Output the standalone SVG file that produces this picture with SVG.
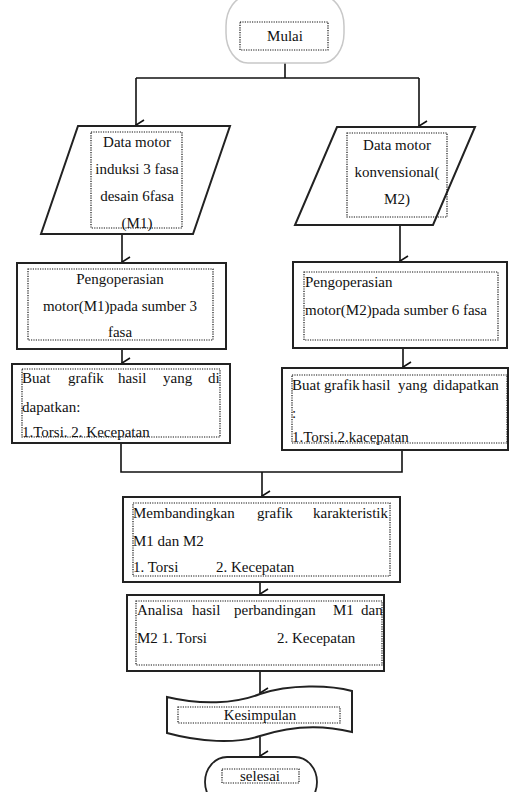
<svg xmlns="http://www.w3.org/2000/svg" width="510" height="792" viewBox="0 0 510 792">
<defs>
<marker id="ah" markerWidth="12" markerHeight="10" refX="6" refY="9" orient="auto-start-reverse" markerUnits="userSpaceOnUse" viewBox="0 0 12 10">
<path d="M1,1 L6,9 L11,1" fill="none" stroke="#111" stroke-width="1.6"/>
</marker>
</defs>
<style>
.box{fill:#fff;stroke:#222;stroke-width:2}
.dot{fill:none;stroke:#111;stroke-width:1.2;stroke-dasharray:1.2 1.2}
.ln{fill:none;stroke:#111;stroke-width:1.6}
text{font-family:"Liberation Serif","DejaVu Serif",serif;font-size:15px;fill:#111}
.c{text-anchor:middle}
</style>
<rect width="510" height="792" fill="#fff"/>
<g id="connectors">
<path class="ln" d="M285,63 V78"/>
<path class="ln" d="M136,78 H419"/>
<path class="ln" d="M136,78 V125" marker-end="url(#ah)"/>
<path class="ln" d="M419,78 V126" marker-end="url(#ah)"/>
<path class="ln" d="M122,234 V262" marker-end="url(#ah)"/>
<path class="ln" d="M400,225 V261" marker-end="url(#ah)"/>
<path class="ln" d="M122,349 V363" marker-end="url(#ah)"/>
<path class="ln" d="M403,348 V367" marker-end="url(#ah)"/>
<path class="ln" d="M121,443 V472 H402 V450"/>
<path class="ln" d="M262,472 V496" marker-end="url(#ah)"/>
<path class="ln" d="M260,582 V594" marker-end="url(#ah)"/>
<path class="ln" d="M260,671 V693" marker-end="url(#ah)"/>
<path class="ln" d="M260,737 V756" marker-end="url(#ah)"/>
</g>
<g id="mulai">
<rect x="226" y="-4" width="118" height="67" rx="22" ry="30" fill="#fff" stroke="#c8c8c8" stroke-width="1.5"/>
<rect class="dot" x="240" y="22" width="88" height="28"/>
<text class="c" x="285" y="41" font-family="Liberation Serif, serif" font-size="16">Mulai</text>
</g>
<g id="data-m1">
<path class="box" d="M78,126 H230 L193,234 H41 Z"/>
<rect class="dot" x="91" y="132" width="91" height="96"/>
<text class="c" x="137" y="147" font-family="Liberation Serif, serif">Data  motor</text>
<text class="c" x="137" y="174" font-family="Liberation Serif, serif">induksi 3 fasa</text>
<text class="c" x="137" y="201" font-family="Liberation Serif, serif">desain  6fasa</text>
<text class="c" x="137" y="228" font-family="Liberation Serif, serif">(M1)</text>
</g>
<g id="data-m2">
<path class="box" d="M337,127 H475 L433,225 H295 Z"/>
<rect class="dot" x="347" y="133" width="100" height="84"/>
<text class="c" x="397" y="150" font-family="Liberation Serif, serif">Data  motor</text>
<text class="c" x="397" y="177" font-family="Liberation Serif, serif">konvensional(</text>
<text class="c" x="397" y="204" font-family="Liberation Serif, serif">M2)</text>
</g>
<g id="op-m1">
<rect class="box" x="17" y="263" width="209" height="86"/>
<rect class="dot" x="28" y="269" width="185" height="71"/>
<text class="c" x="120" y="284" font-family="Liberation Serif, serif">Pengoperasian</text>
<text class="c" x="120" y="311" font-family="Liberation Serif, serif">motor(M1)pada  sumber 3</text>
<text class="c" x="120" y="337" font-family="Liberation Serif, serif">fasa</text>
</g>
<g id="op-m2">
<rect class="box" x="293" y="262" width="214" height="86"/>
<rect class="dot" x="304" y="272" width="194" height="68"/>
<text x="305" y="287" font-family="Liberation Serif, serif">Pengoperasian</text>
<text x="305" y="315" font-family="Liberation Serif, serif">motor(M2)pada  sumber 6 fasa</text>
</g>
<g id="grafik-m1">
<rect class="box" x="12" y="364" width="218" height="79"/>
<rect class="dot" x="22" y="369" width="198" height="68"/>
<text y="383" font-family="Liberation Serif, serif"><tspan x="22">Buat</tspan><tspan x="68">grafik</tspan><tspan x="118">hasil</tspan><tspan x="163">yang</tspan><tspan x="208">di</tspan></text>
<text x="22" y="412" font-family="Liberation Serif, serif">dapatkan:</text>
<text x="22" y="437" font-family="Liberation Serif, serif">1.Torsi. 2. Kecepatan</text>
</g>
<g id="grafik-m2">
<rect class="box" x="282" y="368" width="226" height="82"/>
<rect class="dot" x="292" y="375" width="215" height="68"/>
<text y="390" font-family="Liberation Serif, serif"><tspan x="292">Buat</tspan><tspan x="324">grafik</tspan><tspan x="362">hasil</tspan><tspan x="398">yang</tspan><tspan x="433">didapatkan</tspan></text>
<text x="292" y="418" font-family="Liberation Serif, serif">:</text>
<text x="292" y="442" font-family="Liberation Serif, serif">1.Torsi.2.kacepatan</text>
</g>
<g id="bandingkan">
<rect class="box" x="123" y="497" width="277" height="85"/>
<rect class="dot" x="133" y="503" width="257" height="73"/>
<text y="518" font-family="Liberation Serif, serif"><tspan x="133">Membandingkan</tspan><tspan x="257">grafik</tspan><tspan x="313">karakteristik</tspan></text>
<text x="133" y="546" font-family="Liberation Serif, serif">M1 dan M2</text>
<text y="572" font-family="Liberation Serif, serif"><tspan x="133">1. Torsi</tspan><tspan x="216">2. Kecepatan</tspan></text>
</g>
<g id="analisa">
<rect class="box" x="127" y="595" width="257" height="76"/>
<rect class="dot" x="136" y="601" width="246" height="64"/>
<text y="615" font-family="Liberation Serif, serif"><tspan x="137">Analisa</tspan><tspan x="192">hasil</tspan><tspan x="234">perbandingan</tspan><tspan x="333">M1</tspan><tspan x="361">dan</tspan></text>
<text y="643" font-family="Liberation Serif, serif"><tspan x="137">M2 1. Torsi</tspan><tspan x="277">2. Kecepatan</tspan></text>
</g>
<g id="kesimpulan">
<path class="box" d="M167,697 C200,705 235,704 260,694 C290,684 330,685 352,691 V732 C320,724 290,726 260,736 C235,744 200,742 167,733 Z"/>
<rect class="dot" x="178" y="707" width="162" height="16"/>
<text class="c" x="260" y="720" font-family="Liberation Serif, serif">Kesimpulan</text>
</g>
<g id="selesai">
<rect x="205" y="757" width="112" height="50" rx="22" ry="25" fill="#fff" stroke="#222" stroke-width="1.8"/>
<rect class="dot" x="222" y="769" width="77" height="14"/>
<text class="c" x="260" y="781" font-family="Liberation Serif, serif">selesai</text>
</g>
</svg>
